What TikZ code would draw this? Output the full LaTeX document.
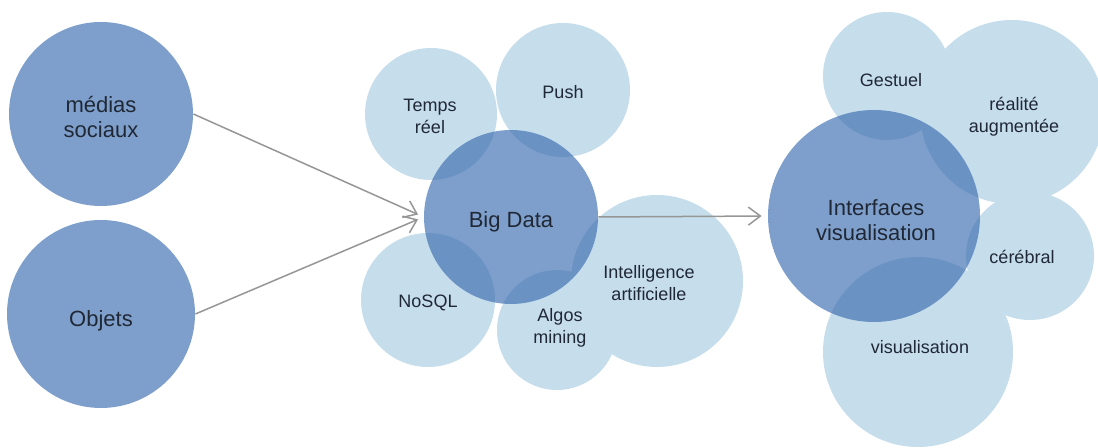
\documentclass[tikz,border=0pt]{standalone}
\usepackage{fontspec}
\setsansfont{Liberation Sans}
\usetikzlibrary{positioning,arrows.meta}
\definecolor{sourceBlue}{RGB}{126,159,203}
\definecolor{coreBlue}{RGB}{57,108,175}
\definecolor{satBlue}{RGB}{198,221,236}
\definecolor{labelInk}{RGB}{32,40,54}
\definecolor{arrowGray}{RGB}{150,150,150}
\tikzset{
    % Style for the two source circles
    source circle/.style={
        circle,
        fill=sourceBlue,
        inner sep=0pt
    },
    % Style for the two central, see-through circles
    core circle/.style={
        circle,
        fill=coreBlue,
        fill opacity=0.65,
        inner sep=0pt
    },
    % Style for the pale satellite circles
    sat circle/.style={
        circle,
        fill=satBlue,
        inner sep=0pt
    },
    % Label styles
    big label/.style={
        font=\sffamily\fontsize{11}{12.5}\selectfont,
        align=center,
        text=labelInk
    },
    small label/.style={
        font=\sffamily\fontsize{9}{11}\selectfont,
        align=center,
        text=labelInk
    },
    % Connector style
    flow arrow/.style={
        -{Straight Barb[length=6pt,width=9pt]},
        line width=0.75pt,
        color=arrowGray,
        shorten >=3pt
    }
}

\begin{document}
\begin{tikzpicture}[x=0.5pt,y=-0.5pt]

% Set the canvas size
\path[use as bounding box] (0,0) rectangle (1098,448);

% Satellite circles round Big Data
\node[sat circle, minimum size=66pt] (temps) at (431,114) {};
\node[sat circle, minimum size=67pt] (push) at (563,90) {};
\node[sat circle, minimum size=67pt] (nosql) at (428,300) {};
\node[sat circle, minimum size=60pt] (algos) at (557,330) {};
\node[sat circle, minimum size=86pt] (intel) at (657,281) {};

% Satellite circles round Interfaces
\node[sat circle, minimum size=64pt] (gestuel) at (887,76) {};
\node[sat circle, minimum size=92pt] (realite) at (1012,112) {};
\node[sat circle, minimum size=64pt] (cerebral) at (1030,256) {};
\node[sat circle, minimum size=95pt] (visu) at (918,352) {};

% Source circles
\node[source circle, minimum size=92pt] (medias) at (101,114) {};
\node[source circle, minimum size=94pt] (objets) at (101,314) {};

% Central circles
\node[core circle, minimum size=87pt] (bigdata) at (511,217) {};
\node[core circle, minimum size=106pt] (interfaces) at (874,216) {};

% Labels
\node[big label] (medias-txt) at (101,117) {médias\\sociaux};
\node[big label] (objets-txt) at (101,321) {Objets};
\node[big label] (bigdata-txt) at (511,222) {Big Data};
\node[big label] (interfaces-txt) at (876,220) {Interfaces\\visualisation};

\node[small label] (temps-txt) at (430,116) {Temps\\réel};
\node[small label] (push-txt) at (563,92) {Push};
\node[small label] (nosql-txt) at (428,303) {NoSQL};
\node[small label] (algos-txt) at (560,328) {Algos\\mining};
\node[small label] (intel-txt) at (649,283) {Intelligence\\artificielle};
\node[small label] (gestuel-txt) at (891,80) {Gestuel};
\node[small label] (realite-txt) at (1014,117) {réalité\\augmentée};
\node[small label] (cerebral-txt) at (1022,257) {cérébral};
\node[small label] (visu-txt) at (920,347) {visualisation};

% Connectors
\draw[flow arrow] (medias.east) -- (bigdata.west);
\draw[flow arrow] (objets.east) -- (bigdata.west);
\draw[flow arrow] (bigdata.east) -- (interfaces.west);

\end{tikzpicture}
\end{document}
